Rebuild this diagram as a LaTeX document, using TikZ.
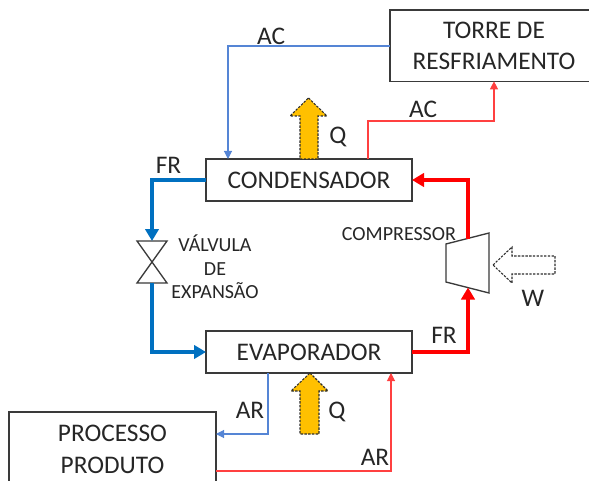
\documentclass[tikz,border=0pt]{standalone}
\usepackage{fontspec}
\setmainfont{Carlito}
\usetikzlibrary{arrows.meta,calc}
\definecolor{txt}{HTML}{262626}
\definecolor{edge}{HTML}{3A3A3A}
\definecolor{fblue}{HTML}{0070C0}
\definecolor{tblue}{HTML}{5585D5}
\definecolor{amber}{HTML}{FFC000}
\tikzset{
  x=0.75pt,y=-0.75pt,
  every node/.style={text=txt,inner sep=0pt,outer sep=0pt},
  boxnode/.style={draw=edge,line width=1pt,fill=white,font=\fontsize{19}{23.5}\selectfont,align=center},
  lbl/.style={font=\fontsize{19}{22}\selectfont},
  slbl/.style={font=\fontsize{15}{17.5}\selectfont,align=center},
  thick blue/.style={draw=fblue,line width=2.7pt,-{Triangle[length=9pt,width=10pt]}},
  thick red/.style={draw=red,line width=2.7pt,-{Triangle[length=9pt,width=10pt]}},
  thin blue/.style={draw=tblue,line width=0.8pt,-{Triangle[length=6pt,width=6pt]}},
  thin red/.style={draw=red!75!white,line width=0.8pt,-{Triangle[length=6pt,width=6pt]}},
  block arrow/.style={draw=edge!80!black,line width=0.8pt,dash pattern=on 1.8pt off 1.0pt,line join=miter},
  symbolline/.style={draw=edge,line width=1pt,fill=white,line join=miter},
}
\begin{document}
\begin{tikzpicture}
\useasboundingbox (0,0) rectangle (589,481);
\begin{scope}
\clip (0,0) rectangle (589,481);

% boxes
\node[boxnode,minimum width=154.5pt,minimum height=31.5pt,anchor=north west] (cond) at (206,159) {CONDENSADOR};
\node[boxnode,minimum width=154.5pt,minimum height=31.5pt,anchor=north west] (evap) at (206,331) {EVAPORADOR};
\node[boxnode,minimum width=156pt,minimum height=53.5pt,anchor=north west] (torre) at (390,10) {TORRE DE\\RESFRIAMENTO};
\draw[draw=edge,line width=1pt] (9,490) -- (9,412) -- (216,412) -- (216,490);
\node[font=\fontsize{19}{24}\selectfont,align=center] (proc) at (112.5,449) {PROCESSO\\PRODUTO};
\coordinate (procE) at (216,434);
\coordinate (procS) at (216,471);

% valve
\coordinate (valveT) at (152,241);
\coordinate (valveB) at (152,283);
\coordinate (valveC) at (152,262);
\draw[symbolline] (valveC) -- (137,241) -- (167,241) -- cycle;
\draw[symbolline] (valveC) -- (137,283) -- (167,283) -- cycle;

% compressor
\coordinate (cTL) at (446,244);
\coordinate (cTR) at (489,233);
\coordinate (cBR) at (489,293);
\coordinate (cBL) at (446,282);
\coordinate (compT) at (468,238.5);
\coordinate (compB) at (468,287.5);
\draw[symbolline] (cTL) -- (cTR) -- (cBR) -- (cBL) -- cycle;

% block arrows
\draw[block arrow,fill=amber] (308.5,98) -- (327,116) -- (318,116) -- (318,159) -- (300,159) -- (300,116) -- (290,116) -- cycle;
\draw[block arrow,fill=amber] (310,373) -- (328,391) -- (319,391) -- (319,434) -- (300,434) -- (300,391) -- (291,391) -- cycle;
\coordinate (wtip) at (493,265);
\draw[block arrow,fill=white] (wtip) -- (512,247) -- (512,256) -- (555,256) -- (555,274) -- (512,274) -- (512,283) -- cycle;

% thick connectors
\draw[thick blue] (cond.west) -- (cond.west -| valveT) -- (valveT);
\draw[thick blue] (valveB) -- (valveB |- evap.west) -- (evap.west);
\draw[thick red] (evap.east) -- (evap.east -| compB) -- (compB);
\draw[thick red] (compT) -- (compT |- cond.east) -- (cond.east);

% thin connectors
\coordinate (a1) at (228,46);
\draw[thin blue] (torre.west |- a1) -- (a1) -- (a1 |- cond.north);
\coordinate (a2) at (368,121);
\coordinate (a3) at (494,121);
\draw[thin red] (a2 |- cond.north) -- (a2) -- (a3) -- (a3 |- torre.south);
\coordinate (a4) at (268,434);
\draw[thin blue] (a4 |- evap.south) -- (a4) -- (procE);
\coordinate (a5) at (391,471);
\draw[thin red] (procS) -- (a5) -- (a5 |- evap.south);
\end{scope}

% labels
\node[lbl] (l1) at (271,36) {AC};
\node[lbl] (l2) at (423,109) {AC};
\node[lbl] (l3) at (338,137) {Q};
\node[lbl] (l4) at (337,412) {Q};
\node[lbl] (l5) at (168.5,165) {FR};
\node[lbl] (l6) at (444,335) {FR};
\node[lbl] (l7) at (533,298) {W};
\node[lbl] (l8) at (250,410) {AR};
\node[lbl] (l9) at (375,457) {AR};
\node[slbl] (l10) at (399,234) {COMPRESSOR};
\node[slbl] (l11) at (215,267) {VÁLVULA\\DE\\EXPANSÃO};
\end{tikzpicture}
\end{document}
